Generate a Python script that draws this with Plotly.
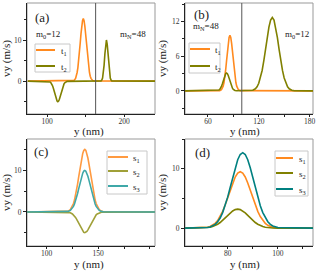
import plotly.graph_objects as go

# ---------------- data ----------------
# panel (a)
a_t1_y = [75, 133, 135, 137, 138, 139, 140, 141, 142, 143, 144, 145, 146, 147, 148, 149, 150, 151, 152, 153, 154, 155, 156, 157, 159, 161, 240]
a_t1_v = [0, 0.03, 0.17, 0.67, 1.2, 2.1, 3.3, 4.9, 7.0, 9.2, 11.5, 13.4, 14.7, 15.2, 14.7, 13.4, 11.5, 9.2, 7.0, 4.9, 3.3, 2.1, 1.2, 0.67, 0.17, 0.03, 0]
a_t2_y = [75, 102, 104, 105, 106, 107, 108, 109, 110, 111, 112, 113, 114, 115, 116, 117, 118, 119, 120, 121, 122, 123, 124, 126,
          170, 171, 172, 173, 174, 175, 176, 177, 178, 179, 180, 181, 182, 183, 184, 240]
a_t2_v = [0, -0.06, -0.22, -0.40, -0.68, -1.08, -1.62, -2.29, -3.03, -3.78, -4.41, -4.85, -5, -4.85, -4.41, -3.78, -3.03, -2.29, -1.62, -1.08, -0.68, -0.40, -0.22, -0.06,
          0.06, 0.24, 0.76, 1.9, 3.9, 6.6, 9.0, 10, 9.0, 6.6, 3.9, 1.9, 0.76, 0.24, 0.06, 0]
a_boundary = 163

# panel (b)
b_t1_y = [33, 74, 76, 77, 78, 79, 80, 81, 82, 83, 84, 85, 86, 87, 88, 89, 90, 91, 92, 93, 94, 95, 96, 98, 184]
b_t1_v = [0, 0.04, 0.20, 0.42, 0.82, 1.45, 2.39, 3.66, 5.17, 6.79, 8.23, 9.24, 9.6, 9.24, 8.23, 6.79, 5.17, 3.66, 2.39, 1.45, 0.82, 0.42, 0.20, 0.04, 0]
b_t2_y = [33, 70, 72, 73, 74, 75, 76, 77, 78, 79, 80, 81, 82, 83, 84, 85, 86, 87, 88, 89, 90, 91, 92, 94,
          110, 113, 116, 118, 120, 122, 124, 126, 128, 130, 132, 134, 136, 138, 140, 142, 144, 146, 148, 150, 152, 154, 156, 159, 162, 184]
b_t2_v = [0, 0.01, 0.07, 0.14, 0.26, 0.47, 0.77, 1.18, 1.67, 2.19, 2.66, 2.98, 3.1, 2.98, 2.66, 2.19, 1.67, 1.18, 0.77, 0.47, 0.26, 0.14, 0.07, 0.01,
          0.03, 0.12, 0.36, 0.71, 1.31, 2.22, 3.53, 5.22, 7.19, 9.22, 11.02, 12.26, 12.7, 12.26, 11.02, 9.22, 7.19, 5.22, 3.53, 2.22, 1.31, 0.71, 0.36, 0.12, 0.03, 0]
b_boundary = 100

# panel (c)
c_y = [80, 119, 121, 123, 125, 126, 127, 128, 129, 130, 131, 132, 133, 134, 135, 136, 137, 138, 139, 140, 141, 142, 143, 144, 145, 146, 147, 148, 149, 151, 153, 155, 205]
c_s1 = [0, 0.07, 0.22, 0.59, 1.40, 2.04, 2.88, 3.96, 5.24, 6.72, 8.34, 10.0, 11.6, 13.02, 14.13, 14.85, 15.1, 14.85, 14.13, 13.02, 11.6, 10.0, 8.34, 6.72, 5.24, 3.96, 2.88, 2.04, 1.40, 0.59, 0.22, 0.07, 0]
c_s2 = [0, -0.02, -0.07, -0.2, -0.47, -0.68, -0.96, -1.31, -1.74, -2.23, -2.76, -3.31, -3.84, -4.31, -4.68, -4.92, -5, -4.92, -4.68, -4.31, -3.84, -3.31, -2.76, -2.23, -1.74, -1.31, -0.96, -0.68, -0.47, -0.2, -0.07, -0.02, 0]
c_s3 = [0, 0.05, 0.15, 0.39, 0.93, 1.35, 1.91, 2.62, 3.47, 4.45, 5.52, 6.62, 7.68, 8.62, 9.36, 9.84, 10, 9.84, 9.36, 8.62, 7.68, 6.62, 5.52, 4.45, 3.47, 2.62, 1.91, 1.35, 0.93, 0.39, 0.15, 0.05, 0]

# panel (d)
d_y = [63, 70, 72, 73, 74, 75, 76, 77, 78, 79, 80, 81, 82, 83, 84, 85, 86, 87, 88, 89, 90, 91, 92, 93, 94, 95, 96, 97, 98, 100, 114]
d_s1 = [0, 0.04, 0.15, 0.28, 0.48, 0.81, 1.28, 1.96, 2.83, 3.90, 5.12, 6.40, 7.61, 8.61, 9.27, 9.5, 9.27, 8.61, 7.61, 6.40, 5.12, 3.90, 2.83, 1.96, 1.28, 0.81, 0.48, 0.28, 0.15, 0.04, 0]
d_s2 = [0, 0.03, 0.09, 0.16, 0.27, 0.43, 0.66, 0.95, 1.32, 1.72, 2.16, 2.56, 2.90, 3.12, 3.2, 3.12, 2.90, 2.56, 2.16, 1.72, 1.32, 0.95, 0.66, 0.43, 0.27, 0.16, 0.09, 0.05, 0.03, 0.01, 0]
d_s3 = [0, 0.02, 0.10, 0.20, 0.37, 0.64, 1.08, 1.71, 2.62, 3.78, 5.22, 6.85, 8.56, 10.17, 11.51, 12.39, 12.7, 12.39, 11.51, 10.17, 8.56, 6.85, 5.22, 3.78, 2.62, 1.71, 1.08, 0.64, 0.37, 0.10, 0]

# ---------------- styling ----------------
ORANGE = "#FF8A1F"
OLIVE = "#808000"
TEAL = "#008080"
C_ORANGE = "#FF9A40"
C_OLIVE = "#A0A038"
C_TEAL = "#3FA8A8"
FONT = "Liberation Serif"
LW = 1.6

W, H = 321, 272
def px(v):
    return v / W
def py(v):
    return 1 - v / H

fig = go.Figure()

def add(x, y, name, color, xa, ya):
    fig.add_trace(go.Scatter(x=x, y=y, mode="lines", name=name, showlegend=False,
                             line=dict(color=color, width=LW), xaxis=xa, yaxis=ya))

add(a_t1_y, a_t1_v, "t1", ORANGE, "x", "y")
add(a_t2_y, a_t2_v, "t2", OLIVE, "x", "y")
add(b_t1_y, b_t1_v, "t1", ORANGE, "x2", "y2")
add(b_t2_y, b_t2_v, "t2", OLIVE, "x2", "y2")
add(c_y, c_s1, "s1", C_ORANGE, "x3", "y3")
add(c_y, c_s2, "s2", C_OLIVE, "x3", "y3")
add(c_y, c_s3, "s3", C_TEAL, "x3", "y3")
add(d_y, d_s1, "s1", ORANGE, "x4", "y4")
add(d_y, d_s2, "s2", OLIVE, "x4", "y4")
add(d_y, d_s3, "s3", TEAL, "x4", "y4")

tickfont = dict(family=FONT, size=7.5, color="#333")
titlefont = dict(family=FONT, size=11, color="#222")

def xax(dom, rng, tickvals, mdtick, anchor):
    return dict(domain=dom, range=rng, tickvals=tickvals, anchor=anchor, automargin=False,
                showline=True, linecolor="#222", linewidth=1, mirror=False,
                ticks="outside", ticklen=2, tickcolor="#222", ticklabelstandoff=-2,
                minor=dict(dtick=mdtick, tick0=0, ticks="outside", ticklen=2, tickcolor="#222"),
                showgrid=False, zeroline=False, tickfont=tickfont)

def yax(dom, rng, tickvals, mdtick, anchor):
    return dict(domain=dom, range=rng, tickvals=tickvals, anchor=anchor, automargin=False,
                showline=True, linecolor="#222", linewidth=1, mirror=False,
                ticks="outside", ticklen=3, tickcolor="#222",
                minor=dict(dtick=mdtick, tick0=0, ticks="outside", ticklen=2, tickcolor="#222"),
                showgrid=False, zeroline=False, tickfont=tickfont,
                title=dict(text="vy (m/s)", font=titlefont, standoff=3))

xa_dom = [px(27), px(155)]
xb_dom = [px(185), px(313)]
top_dom = [py(114), py(3)]
bot_dom = [py(246), py(139)]

fig.update_layout(
    width=W, height=H, margin=dict(l=0, r=0, t=0, b=0, autoexpand=False),
    paper_bgcolor="white", plot_bgcolor="white", showlegend=False,
    xaxis=xax(xa_dom, [74, 240], [100, 200], 50, "y"),
    yaxis=yax(top_dom, [-8, 19], [0, 10], 5, "x"),
    xaxis2=xax(xb_dom, [33, 184], [60, 120, 180], 30, "y2"),
    yaxis2=yax(top_dom, [-4, 15.2], [0, 6, 12], 3, "x2"),
    xaxis3=xax(xa_dom, [81, 205], [100, 150], 25, "y3"),
    yaxis3=yax(bot_dom, [-8.2, 17.6], [0, 10], 5, "x3"),
    xaxis4=xax(xb_dom, [63, 114], [80, 100], 10, "y4"),
    yaxis4=yax(bot_dom, [-3, 15], [0, 10], 5, "x4"),
)

shapes = []
# light gray frames
for xr, yr in [("x", "y"), ("x2", "y2"), ("x3", "y3"), ("x4", "y4")]:
    shapes.append(dict(type="rect", xref=xr + " domain", yref=yr + " domain",
                       x0=0, x1=1, y0=0, y1=1, line=dict(color="#999", width=1), layer="below"))
# interface lines
shapes.append(dict(type="line", xref="x", yref="y domain", x0=a_boundary, x1=a_boundary, y0=0, y1=1,
                   line=dict(color="#555", width=1)))
shapes.append(dict(type="line", xref="x2", yref="y2 domain", x0=b_boundary, x1=b_boundary, y0=0, y1=1,
                   line=dict(color="#555", width=1)))

annotations = []
def ann(text, x, y, size, xanchor="center"):
    annotations.append(dict(text=text, x=px(x), y=py(y), xref="paper", yref="paper",
                            xanchor=xanchor, yanchor="middle", showarrow=False,
                            font=dict(family=FONT, size=size, color="#222")))

# legends: box (x0, y0, x1, y1), line start/end, text x, entries (label, color, row y)
legends = [
    ((35, 44, 70, 72), 36, 55, 59, [("t<sub>1</sub>", ORANGE, 50), ("t<sub>2</sub>", OLIVE, 66)]),
    ((189, 43, 220, 73), 190, 210, 213, [("t<sub>1</sub>", ORANGE, 49), ("t<sub>2</sub>", OLIVE, 66)]),
    ((107, 151, 147, 194), 108, 128, 131, [("s<sub>1</sub>", C_ORANGE, 157), ("s<sub>2</sub>", C_OLIVE, 171), ("s<sub>3</sub>", C_TEAL, 186)]),
    ((275, 151, 308, 196), 276, 293, 297, [("s<sub>1</sub>", ORANGE, 158), ("s<sub>2</sub>", OLIVE, 173), ("s<sub>3</sub>", TEAL, 189)]),
]
for (bx0, by0, bx1, by1), lx0, lx1, tx, entries in legends:
    shapes.append(dict(type="rect", xref="paper", yref="paper", x0=px(bx0), x1=px(bx1),
                       y0=py(by1), y1=py(by0), line=dict(color="#c8c8c8", width=1),
                       fillcolor="white", layer="above"))
    for label, color, ry in entries:
        shapes.append(dict(type="line", xref="paper", yref="paper", x0=px(lx0), x1=px(lx1),
                           y0=py(ry), y1=py(ry), line=dict(color=color, width=2), layer="above"))
        ann(label, tx, ry + 1, 9, xanchor="left")

fig.update_layout(shapes=shapes)

ann("(a)", 42, 17, 13)
ann("m<sub>0</sub>=12", 48, 34, 9)
ann("m<sub>N</sub>=48", 133, 34, 9)
ann("(b)", 201, 14, 13)
ann("m<sub>N</sub>=48", 206, 27, 9)
ann("m<sub>0</sub>=12", 297, 34, 9)
ann("(c)", 41, 151, 13)
ann("(d)", 202, 152, 13)
# x-axis titles
ann("y (nm)", 89, 131, 11)
ann("y (nm)", 245, 131, 11)
ann("y (nm)", 89, 264, 11)
ann("y (nm)", 245, 264, 11)
fig.update_layout(annotations=annotations)

fig.write_html("out.html", config={"displayModeBar": False},
               post_script="document.body.style.margin='0px';")
